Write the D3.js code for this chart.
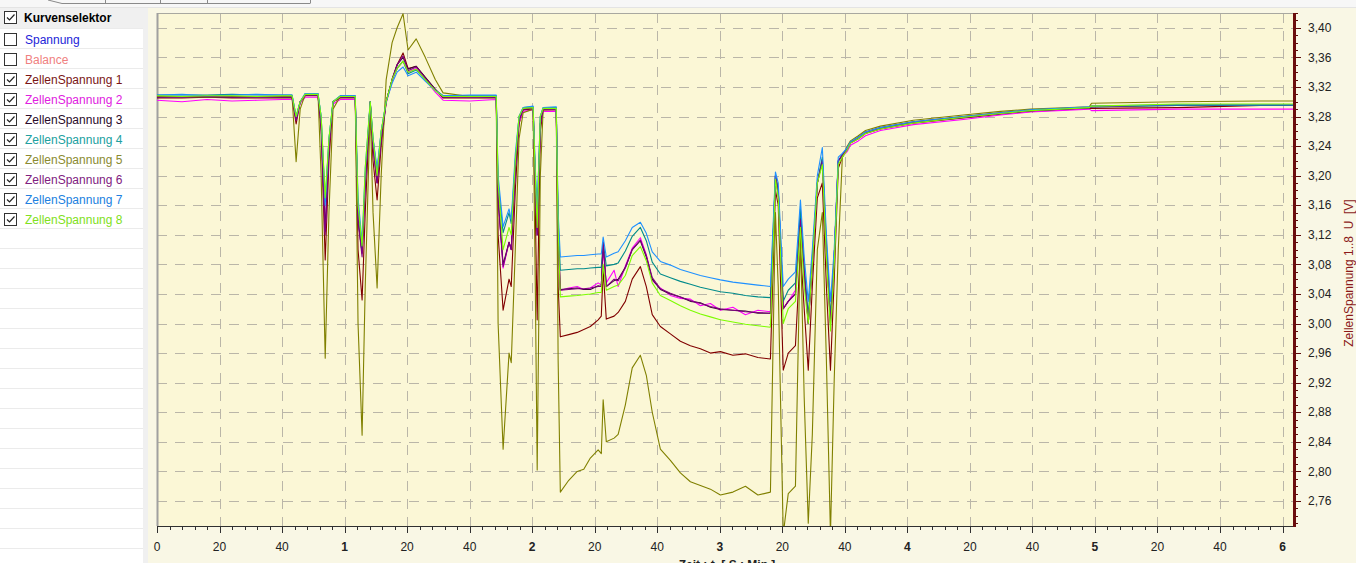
<!DOCTYPE html>
<html><head><meta charset="utf-8">
<script src="https://cdn.jsdelivr.net/npm/d3@7"></script>
<style>
html,body{margin:0;padding:0;background:#f0f0f0;overflow:hidden;}
svg{display:block;font-family:"Liberation Sans",Arial,sans-serif;}
</style></head><body>
<svg id="chart" width="1356" height="563"></svg>
<script>
// ---------- data ----------
const timeSec = [0,8,16,24,32,40,43.2,44.5,45.8,47.4,51.5,52.5,53.8,55.0,56.3,58.6,63.4,64.3,65.6,66.6,
  68.2,69.1,70.4,71.7,73.3,75.2,76.8,78.7,80.3,82.9,85.8,89.0,91.5,100,108.5,109.1,110.7,112.6,113.3,114.6,
  115.8,117.1,120.3,121.0,121.6,122.6,123.5,127.7,128.3,
  129.0,131.7,134.4,136.5,138.6,141.1,142.1,
  142.7,143.7,146.2,147.5,149.8,152.0,154.6,156.5,158.4,
  161.0,164.2,167.4,170.6,173.8,177.0,180.2,184.2,188.2,192.2,196.2,
  197.8,198.7,200.3,201.9,204.2,205.8,207.0,208.3,209.6,211.2,212.8,
  214.1,215.4,216.6,217.9,219.2,220.8,221.8,224.3,226.6,231.4,241.9,257.9,269.8,279.4,298.2,298.9,326.4,353.0,363.5];

const zelle1 = [3.305,3.305,3.306,3.305,3.305,3.305,3.305,3.27,3.30,3.308,3.308,3.26,3.086,3.22,3.30,3.305,3.305,3.10,3.032,3.15,
  3.30,3.22,3.167,3.24,3.30,3.33,3.35,3.366,3.345,3.348,3.333,3.316,3.305,3.305,3.305,3.12,3.018,3.06,3.05,3.18,
  3.27,3.289,3.29,3.15,3.005,3.26,3.289,3.289,3.05,
  2.982,2.985,2.988,2.992,2.996,3.005,3.01,
  3.072,3.006,3.01,3.015,3.03,3.06,3.077,3.05,3.012,
  2.996,2.986,2.976,2.970,2.966,2.960,2.962,2.957,2.959,2.954,2.952,
  3.18,3.16,2.937,2.96,2.97,3.10,3.02,2.937,3.05,3.17,3.19,
  3.05,2.937,3.06,3.21,3.225,3.235,3.244,3.25,3.257,3.263,3.271,3.278,3.283,3.287,3.291,3.291,3.292,3.295,3.295];

const zelle2 = [3.302,3.300,3.303,3.301,3.302,3.303,3.303,3.275,3.298,3.306,3.306,3.27,3.125,3.24,3.297,3.303,3.303,3.14,3.095,3.19,
  3.298,3.24,3.19,3.25,3.298,3.328,3.345,3.355,3.34,3.345,3.33,3.313,3.302,3.301,3.303,3.17,3.075,3.11,3.10,3.21,
  3.272,3.287,3.289,3.19,3.12,3.27,3.287,3.287,3.12,
  3.045,3.048,3.05,3.046,3.048,3.055,3.052,
  3.10,3.055,3.072,3.05,3.078,3.102,3.116,3.093,3.058,
  3.048,3.038,3.034,3.033,3.024,3.027,3.018,3.022,3.012,3.018,3.016,
  3.195,3.175,3.02,3.03,3.045,3.14,3.07,3.00,3.08,3.19,3.22,
  3.10,3.00,3.09,3.22,3.226,3.233,3.241,3.247,3.254,3.261,3.269,3.276,3.282,3.286,3.29,3.288,3.29,3.29,3.29];

const zelle3 = [3.306,3.307,3.306,3.306,3.307,3.306,3.306,3.275,3.30,3.309,3.309,3.27,3.125,3.24,3.30,3.306,3.306,3.14,3.095,3.19,
  3.30,3.24,3.19,3.25,3.30,3.33,3.35,3.36,3.344,3.348,3.333,3.317,3.306,3.307,3.306,3.17,3.08,3.11,3.10,3.21,
  3.275,3.29,3.292,3.19,3.12,3.27,3.29,3.291,3.12,
  3.046,3.047,3.048,3.046,3.046,3.051,3.05,
  3.11,3.05,3.058,3.06,3.076,3.10,3.112,3.09,3.06,
  3.046,3.040,3.036,3.030,3.028,3.022,3.019,3.018,3.017,3.014,3.014,
  3.20,3.18,3.02,3.03,3.04,3.145,3.07,3.00,3.08,3.19,3.222,
  3.10,3.00,3.09,3.22,3.228,3.236,3.245,3.252,3.259,3.265,3.273,3.280,3.285,3.289,3.292,3.294,3.295,3.295,3.295];

const zelle4 = [3.309,3.309,3.309,3.310,3.309,3.309,3.309,3.28,3.30,3.311,3.311,3.28,3.165,3.25,3.30,3.308,3.308,3.16,3.10,3.20,
  3.30,3.25,3.205,3.26,3.30,3.33,3.345,3.355,3.338,3.343,3.33,3.316,3.308,3.308,3.308,3.19,3.123,3.15,3.135,3.22,
  3.28,3.292,3.293,3.20,3.15,3.28,3.292,3.292,3.14,
  3.072,3.073,3.074,3.074,3.075,3.076,3.076,
  3.11,3.078,3.08,3.082,3.098,3.118,3.130,3.112,3.083,
  3.067,3.062,3.057,3.053,3.049,3.046,3.043,3.041,3.038,3.036,3.035,
  3.20,3.18,3.03,3.045,3.055,3.155,3.08,3.01,3.09,3.19,3.225,
  3.11,3.01,3.09,3.22,3.228,3.237,3.245,3.251,3.258,3.264,3.272,3.279,3.284,3.288,3.292,3.293,3.295,3.295,3.295];

const zelle5 = [3.307,3.307,3.306,3.307,3.307,3.307,3.307,3.219,3.29,3.31,3.31,3.20,2.953,3.15,3.29,3.307,3.307,3.00,2.849,3.05,
  3.29,3.15,3.048,3.20,3.33,3.38,3.40,3.419,3.37,3.385,3.36,3.33,3.312,3.307,3.307,3.00,2.83,2.96,2.947,3.10,
  3.25,3.285,3.29,3.05,2.802,3.20,3.289,3.29,2.95,
  2.772,2.788,2.80,2.803,2.818,2.829,2.824,
  2.897,2.84,2.845,2.85,2.89,2.94,2.957,2.93,2.88,
  2.83,2.815,2.798,2.786,2.781,2.776,2.768,2.772,2.78,2.768,2.772,
  3.15,3.05,2.715,2.77,2.78,3.12,2.90,2.73,2.85,3.10,3.15,
  2.95,2.715,2.924,3.10,3.225,3.24,3.247,3.254,3.261,3.267,3.275,3.282,3.287,3.29,3.293,3.298,3.30,3.301,3.301];

const zelle6 = [3.306,3.306,3.307,3.306,3.306,3.306,3.306,3.275,3.30,3.309,3.309,3.27,3.12,3.24,3.30,3.306,3.306,3.14,3.09,3.19,
  3.30,3.24,3.19,3.25,3.30,3.33,3.35,3.362,3.342,3.347,3.332,3.316,3.306,3.306,3.306,3.17,3.077,3.11,3.10,3.21,
  3.275,3.290,3.291,3.19,3.12,3.27,3.290,3.290,3.12,
  3.045,3.046,3.047,3.047,3.048,3.05,3.05,
  3.11,3.05,3.06,3.058,3.075,3.100,3.113,3.092,3.062,
  3.047,3.041,3.036,3.031,3.027,3.023,3.020,3.018,3.016,3.015,3.014,
  3.20,3.18,3.02,3.03,3.04,3.14,3.07,3.00,3.08,3.19,3.22,
  3.10,3.00,3.09,3.22,3.228,3.236,3.245,3.251,3.258,3.264,3.272,3.279,3.284,3.288,3.292,3.293,3.296,3.296,3.296];

const zelle7 = [3.309,3.310,3.308,3.309,3.310,3.309,3.309,3.28,3.30,3.311,3.311,3.28,3.16,3.25,3.30,3.308,3.308,3.17,3.11,3.21,
  3.30,3.25,3.21,3.26,3.30,3.325,3.34,3.347,3.335,3.34,3.328,3.315,3.308,3.309,3.309,3.20,3.131,3.155,3.14,3.23,
  3.28,3.292,3.294,3.21,3.15,3.28,3.292,3.293,3.15,
  3.090,3.091,3.092,3.092,3.093,3.094,3.094,
  3.117,3.090,3.095,3.097,3.112,3.130,3.137,3.122,3.097,
  3.084,3.079,3.073,3.069,3.065,3.062,3.059,3.056,3.054,3.052,3.050,
  3.205,3.19,3.05,3.06,3.07,3.167,3.09,3.03,3.10,3.20,3.238,
  3.12,3.03,3.10,3.225,3.23,3.238,3.246,3.252,3.259,3.265,3.273,3.280,3.285,3.289,3.293,3.294,3.296,3.296,3.296];

const zelle8 = [3.308,3.307,3.308,3.308,3.307,3.308,3.308,3.28,3.30,3.31,3.31,3.28,3.17,3.25,3.30,3.307,3.307,3.16,3.105,3.21,
  3.30,3.25,3.20,3.26,3.30,3.33,3.345,3.355,3.34,3.344,3.33,3.315,3.307,3.307,3.307,3.19,3.10,3.13,3.12,3.22,
  3.28,3.291,3.292,3.20,3.13,3.28,3.291,3.291,3.13,
  3.036,3.037,3.038,3.039,3.04,3.042,3.042,
  3.08,3.045,3.05,3.052,3.065,3.092,3.104,3.085,3.055,
  3.038,3.031,3.024,3.018,3.013,3.009,3.005,3.002,2.999,2.997,2.995,
  3.195,3.17,3.00,3.02,3.03,3.13,3.05,3.00,3.08,3.19,3.215,
  3.09,2.99,3.08,3.215,3.225,3.235,3.244,3.25,3.257,3.263,3.271,3.279,3.284,3.288,3.292,3.294,3.297,3.297,3.297];

const seriesValues = [zelle1, zelle2, zelle3, zelle4, zelle5, zelle6, zelle7, zelle8];
const lineColors = ["#800000","#ff00ff","#3a083a","#008b8b","#808000","#800080","#1e90ff","#7cfc00"];

const legendLabels = ["Spannung","Balance","ZellenSpannung 1","ZellenSpannung 2","ZellenSpannung 3","ZellenSpannung 4",
  "ZellenSpannung 5","ZellenSpannung 6","ZellenSpannung 7","ZellenSpannung 8"];
const legendChecked = [false,false,true,true,true,true,true,true,true,true];
const legendColors = ["#2323d8","#f08080","#7a1414","#e020e0","#2a0a2a","#20a0a0","#8a8a30","#802080","#2080e0","#80e020"];

const voltMajorTicks = [2.76,2.80,2.84,2.88,2.92,2.96,3.00,3.04,3.08,3.12,3.16,3.20,3.24,3.28,3.32,3.36,3.40];
const timeMajorTicks = [0,20,40,60,80,100,120,140,160,180,200,220,240,260,280,300,320,340,360];

// ---------- layout ----------
const svg = d3.select("#chart");
const W = 1356, H = 563;
const plot = {left:157, right:1294, top:13, bottom:526};

const x = d3.scaleLinear().domain([0, 363.5]).range([plot.left, plot.right - 0.5]);
const y = d3.scaleLinear().domain([2.7275, 3.42]).range([plot.bottom - 1, plot.top]);

// background
svg.append("rect").attr("x",0).attr("y",0).attr("width",W).attr("height",H).attr("fill","#f0f0f0");

// top tab strip
const tabStrip = svg.append("g");
tabStrip.append("rect").attr("x",0).attr("y",0).attr("width",W).attr("height",8).attr("fill","#f7f7f7");
tabStrip.append("path").attr("d","M48,0 L62,3.5 L310,3.5").attr("stroke","#8a8a8a").attr("fill","none");
[105,160,207,310].forEach(xx => tabStrip.append("line").attr("x1",xx+0.5).attr("x2",xx+0.5).attr("y1",0).attr("y2",3.5).attr("stroke","#8a8a8a"));
tabStrip.append("line").attr("x1",0).attr("x2",W).attr("y1",7.5).attr("y2",7.5).attr("stroke","#e4e4e4");

// left selector panel
const panel = svg.append("g");
panel.append("rect").attr("x",0).attr("y",8).attr("width",143).attr("height",21).attr("fill","#f0f0f0");
panel.append("rect").attr("x",0).attr("y",29).attr("width",143).attr("height",H-29).attr("fill","#ffffff");
for (let r = 0; r < 27; r++) {
  const yy = 28.5 + r*20;
  panel.append("line").attr("x1",0).attr("x2",143).attr("y1",yy).attr("y2",yy).attr("stroke","#ebebeb");
}
panel.append("rect").attr("x",143).attr("y",8).attr("width",5).attr("height",H-8).attr("fill","#f0f0f0");

function checkbox(g, cx, cy, checked) {
  g.append("rect").attr("x",cx+0.5).attr("y",cy+0.5).attr("width",12).attr("height",12)
    .attr("fill","#ffffff").attr("stroke","#333333").attr("stroke-width",1);
  if (checked) {
    g.append("path").attr("d",`M${cx+3},${cy+6.5} L${cx+5.5},${cy+9} L${cx+10.5},${cy+3.5}`)
      .attr("fill","none").attr("stroke","#222222").attr("stroke-width",1.2);
  }
}
checkbox(panel, 4, 11, true);
panel.append("text").attr("x",24).attr("y",22).attr("font-size",12).attr("font-weight","bold")
  .attr("fill","#000").text("Kurvenselektor");
legendLabels.forEach((lab, i) => {
  const ry = 29 + i*20;
  checkbox(panel, 4, ry + 4, legendChecked[i]);
  panel.append("text").attr("x",25).attr("y",ry + 15).attr("font-size",12)
    .attr("fill",legendColors[i]).text(lab);
});

// chart region
svg.append("rect").attr("x",148).attr("y",8).attr("width",W-148).attr("height",H-8).attr("fill","#f9f7e5");
svg.append("rect").attr("x",plot.left).attr("y",plot.top).attr("width",plot.right-plot.left).attr("height",plot.bottom-plot.top)
  .attr("fill","#fbf7d6");

// grid
const grid = svg.append("g").attr("stroke","#bab6a8").attr("stroke-width",1).attr("stroke-dasharray","10,8");
timeMajorTicks.filter(t => t > 0).forEach(t => {
  grid.append("line").attr("x1",Math.round(x(t))+0.5).attr("x2",Math.round(x(t))+0.5)
    .attr("y1",plot.top).attr("y2",plot.bottom);
});
voltMajorTicks.forEach(v => {
  grid.append("line").attr("y1",Math.round(y(v))+0.5).attr("y2",Math.round(y(v))+0.5)
    .attr("x1",plot.left).attr("x2",plot.right);
});

// plot border (top, left)
svg.append("line").attr("x1",plot.left).attr("x2",plot.right).attr("y1",plot.top+0.5).attr("y2",plot.top+0.5).attr("stroke","#a8a8a0");
svg.append("line").attr("x1",plot.left+0.5).attr("x2",plot.left+0.5).attr("y1",plot.top).attr("y2",plot.bottom).attr("stroke","#a0a0a0").attr("stroke-width",2);

// lines
svg.append("clipPath").attr("id","clip").append("rect")
  .attr("x",plot.left).attr("y",plot.top).attr("width",plot.right-plot.left).attr("height",plot.bottom-plot.top);
const lineGen = d3.line().x((d,i) => x(timeSec[i])).y(d => y(d));
const lines = svg.append("g").attr("clip-path","url(#clip)");
seriesValues.forEach((vals, k) => {
  lines.append("path").attr("d", lineGen(vals)).attr("fill","none")
    .attr("stroke", lineColors[k]).attr("stroke-width",1.1).attr("stroke-linejoin","round");
});

// bottom axis
const xAxisG = svg.append("g").attr("transform",`translate(0,${plot.bottom})`);
xAxisG.append("line").attr("x1",plot.left).attr("x2",plot.right).attr("y1",0.5).attr("y2",0.5).attr("stroke","#303030");
d3.range(0, 364, 4).forEach(t => {
  const major = t % 20 === 0;
  xAxisG.append("line").attr("x1",Math.round(x(t))+0.5).attr("x2",Math.round(x(t))+0.5)
    .attr("y1",0).attr("y2",major ? 7 : 4).attr("stroke","#303030");
});
timeMajorTicks.forEach(t => {
  const isMin = t % 60 === 0 && t > 0;
  xAxisG.append("text").attr("x",x(t)).attr("y",25).attr("text-anchor","middle").attr("font-size",12)
    .attr("font-weight", isMin ? "bold" : "normal").attr("fill","#222")
    .text(t === 0 ? "0" : (isMin ? String(t/60) : String(t % 60)));
});
svg.append("text").attr("x",727).attr("y",569).attr("text-anchor","middle").attr("font-size",12)
  .attr("font-weight","bold").attr("fill","#222").style("white-space","pre").text("Zeit : t  [ S : Min ]");

// right axis
const yAxisG = svg.append("g");
d3.range(273, 343, 1).map(d => d/100).forEach(v => {
  const major = Math.round(v*100) % 4 === 0;
  yAxisG.append("line").attr("x1",plot.right).attr("x2",plot.right + (major ? 7 : 4))
    .attr("y1",Math.round(y(v))+0.5).attr("y2",Math.round(y(v))+0.5).attr("stroke","#5a0a0a");
});
yAxisG.append("line").attr("x1",plot.right+0.5).attr("x2",plot.right+0.5).attr("y1",plot.top).attr("y2",plot.bottom+1)
  .attr("stroke","#6b0d0d").attr("stroke-width",3);
voltMajorTicks.forEach(v => {
  yAxisG.append("text").attr("x",1308).attr("y",y(v)).attr("dy","0.35em").attr("font-size",12).attr("fill","#222")
    .text(d3.format(".2f")(v).replace(".", ","));
});
svg.append("text").attr("transform","translate(1353,273) rotate(-90)").attr("text-anchor","middle")
  .attr("font-size",12).attr("fill","#8b1a1a").style("white-space","pre").text("ZellenSpannung 1..8  U  [V]");
</script>
</body></html>
